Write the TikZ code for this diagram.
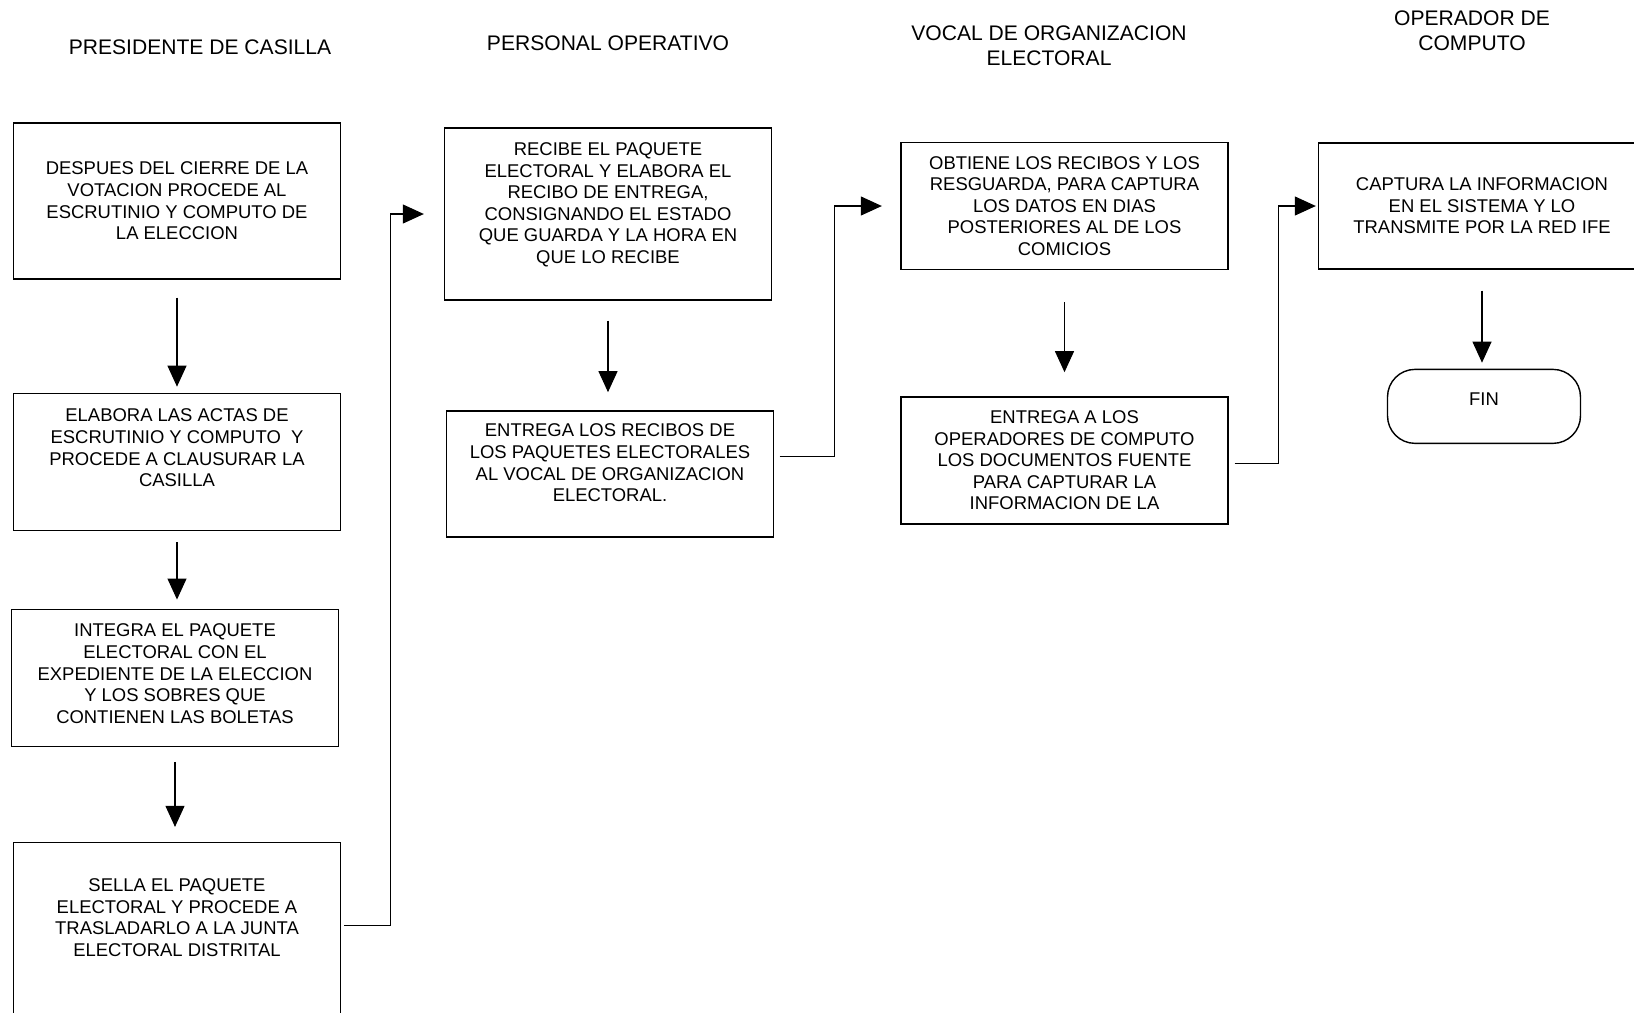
\documentclass[tikz,border=0pt]{standalone}
\usepackage{fontspec}
\setmainfont{Liberation Sans}
\usetikzlibrary{positioning,arrows.meta}

\begin{document}
\begin{tikzpicture}[x=0.02cm,y=-0.02cm,box/.style={draw, rectangle, line width=0.8pt, minimum width=6.54cm, align=center, font=\fontsize{10.5}{12.3}\selectfont},head/.style={align=center, font=\fontsize{12}{14.2}\selectfont},flow/.style={-{Triangle[length=4.2mm,width=3.8mm]}, line width=0.6pt},lift/.style={text depth=#1}]
  \clip (0,0) rectangle (1634,1012);
  \node[head] (h1) at (200,47) {PRESIDENTE DE CASILLA};
  \node[head] (h2) at (608,43) {PERSONAL OPERATIVO};
  \node[head] (h3) at (1049,46) {VOCAL DE ORGANIZACION\\ELECTORAL};
  \node[head] (h4) at (1472,31) {OPERADOR DE\\COMPUTO};
  \node[box, minimum height=3.12cm] (a1) at (177,201) {DESPUES DEL CIERRE DE LA\\VOTACION PROCEDE AL\\ESCRUTINIO Y COMPUTO DE\\LA ELECCION};
  \node[box, minimum height=2.74cm, lift=0.56cm, below=2.26cm of a1] (a2) {ELABORA LAS ACTAS DE\\ESCRUTINIO Y COMPUTO\ \ Y\\PROCEDE A CLAUSURAR LA\\CASILLA};
  \node[box, minimum height=2.74cm, lift=0.16cm, below=1.55cm of a2, xshift=-0.04cm] (a3) {INTEGRA EL PAQUETE\\ELECTORAL CON EL\\EXPEDIENTE DE LA ELECCION\\Y LOS SOBRES QUE\\CONTIENEN LAS BOLETAS};
  \node[box, minimum height=3.64cm, lift=0.64cm, below=1.9cm of a3, xshift=0.04cm] (a4) {SELLA EL PAQUETE\\ELECTORAL Y PROCEDE A\\TRASLADARLO A LA JUNTA\\ELECTORAL DISTRITAL};
  \node[box, minimum height=3.44cm, lift=0.44cm] (b1) at (608,214) {RECIBE EL PAQUETE\\ELECTORAL Y ELABORA EL\\RECIBO DE ENTREGA,\\CONSIGNANDO EL ESTADO\\QUE GUARDA Y LA HORA EN\\QUE LO RECIBE};
  \node[box, minimum height=2.52cm, lift=0.44cm, below=2.19cm of b1, xshift=0.04cm] (b2) {ENTREGA LOS RECIBOS DE\\LOS PAQUETES ELECTORALES\\AL VOCAL DE ORGANIZACION\\ELECTORAL.};
  \node[box, minimum height=2.54cm] (c1) at (1064.5,206) {OBTIENE LOS RECIBOS Y LOS\\RESGUARDA, PARA CAPTURA\\LOS DATOS EN DIAS\\POSTERIORES AL DE LOS\\COMICIOS};
  \node[box, minimum height=2.54cm, below=2.52cm of c1] (c2) {ENTREGA A LOS\\OPERADORES DE COMPUTO\\LOS DOCUMENTOS FUENTE\\PARA CAPTURAR LA\\INFORMACION DE LA};
  \node[box, minimum height=2.52cm] (d1) at (1482,206) {CAPTURA LA INFORMACION\\EN EL SISTEMA Y LO\\TRANSMITE POR LA RED IFE};
  \node[box, rounded corners=0.55cm, minimum width=3.86cm, minimum height=1.48cm, lift=0.28cm, below=1.98cm of d1, xshift=0.04cm] (fin) {FIN};
  \draw[flow, shorten <=0.36cm, shorten >=0.12cm] (a1.south) -- (a2.north);
  \draw[flow, shorten <=0.22cm, shorten >=0.18cm] (a2.south) -- (a2.south |- a3.north);
  \draw[flow, shorten <=0.3cm, shorten >=0.3cm] (a3.south) -- (a3.south |- a4.north);
  \draw[flow, shorten <=0.4cm, shorten >=0.36cm] (b1.south) -- (b1.south |- b2.north);
  \draw[flow, shorten <=0.64cm, shorten >=0.48cm] (c1.south) -- (c2.north);
  \draw[flow, shorten <=0.42cm, shorten >=0.12cm] (d1.south) -- (d1.south |- fin.north);
  \draw[flow] ([xshift=0.06cm,yshift=0.16cm]a4.east) -| ([xshift=-1.06cm]b1.west) -- ([xshift=-0.4cm]b1.west);
  \draw[flow] ([xshift=0.11cm,yshift=0.35cm]b2.east) -| ([xshift=-1.32cm]c1.west) -- ([xshift=-0.37cm]c1.west);
  \draw[flow] ([xshift=0.12cm,yshift=-0.06cm]c2.east) -| ([xshift=-0.78cm]d1.west) -- ([xshift=-0.04cm]d1.west);
\end{tikzpicture}
\end{document}
